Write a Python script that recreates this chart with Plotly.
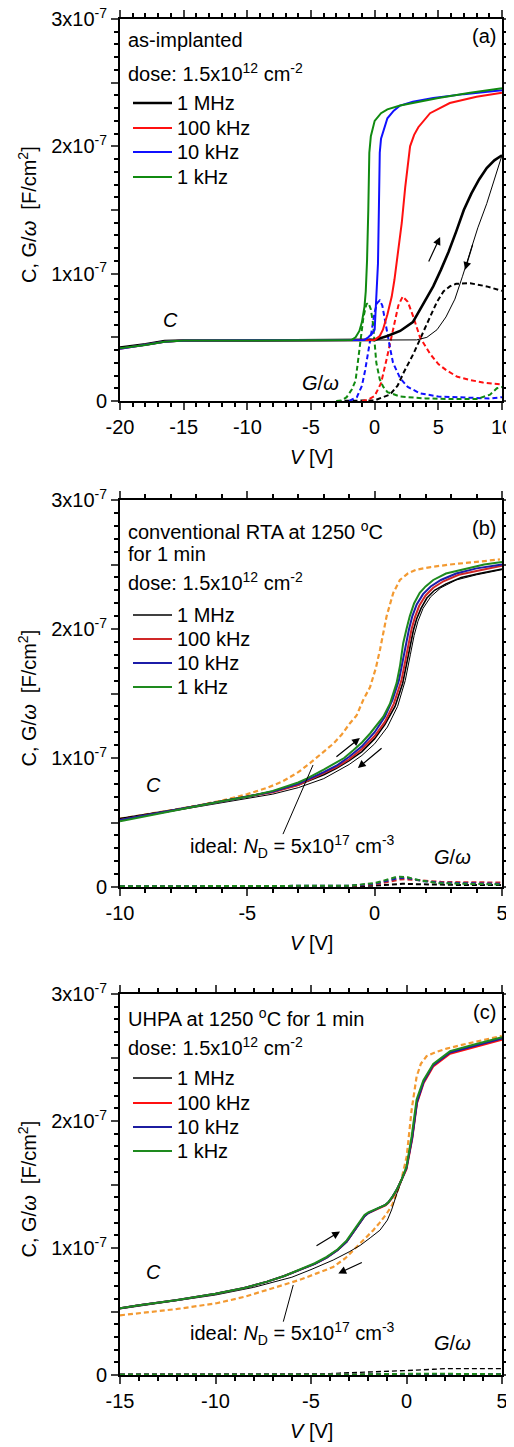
import numpy as np
import plotly.graph_objects as go

E = 1e-7  # values below are given in units of 1e-7 F/cm^2

# ---------------- Panel (a): as-implanted, V from -20 to 10 ----------------
A_V_1k = [-20, -18, -16.5, -15, -10, -5, -2.2, -1.8, -1.5, -1.2, -1.0, -0.8, -0.7, -0.6, -0.5, -0.42, -0.3, -0.15, 0, 0.5, 1, 2, 3.5, 5, 7.5, 10]
A_C_1k = [0.415, 0.44, 0.465, 0.475, 0.475, 0.475, 0.475, 0.48, 0.50, 0.55, 0.62, 0.74, 0.86, 1.10, 1.50, 1.95, 2.08, 2.15, 2.20, 2.26, 2.29, 2.32, 2.35, 2.38, 2.42, 2.456]
A_V_10k = [-20, -18, -16.5, -15, -10, -5, -1.5, -0.8, -0.5, -0.2, 0, 0.13, 0.26, 0.33, 0.4, 0.5, 0.7, 1.0, 1.5, 2.0, 3, 4.6, 7, 10]
A_C_10k = [0.41, 0.44, 0.465, 0.475, 0.475, 0.475, 0.475, 0.48, 0.50, 0.53, 0.56, 0.82, 1.08, 1.5, 1.95, 2.06, 2.13, 2.22, 2.28, 2.32, 2.35, 2.38, 2.41, 2.44]
A_V_100k = [-20, -18, -16.5, -15, -10, -5, -0.5, 0, 0.4, 0.65, 1.0, 1.34, 1.55, 1.73, 1.9, 2.13, 2.4, 2.78, 3.1, 3.43, 4.35, 5.9, 8, 10]
A_C_100k = [0.41, 0.44, 0.465, 0.475, 0.475, 0.475, 0.475, 0.48, 0.51, 0.56, 0.68, 0.82, 0.95, 1.08, 1.22, 1.40, 1.68, 2.0, 2.09, 2.15, 2.26, 2.34, 2.39, 2.42]
A_V_1M_up = [-20, -18, -16.5, -15, -10, -5, -1, 0, 1, 2, 3, 3.8, 4.6, 5.2, 5.8, 6.4, 7.0, 7.6, 8.2, 8.8, 9.4, 10]
A_C_1M_up = [0.42, 0.445, 0.47, 0.475, 0.475, 0.475, 0.475, 0.48, 0.51, 0.55, 0.62, 0.76, 0.9, 1.03, 1.17, 1.33, 1.5, 1.63, 1.74, 1.83, 1.89, 1.93]
A_V_1M_dn = [-20, -18, -16.5, -15, -10, -5, 0, 2, 3.3, 4.1, 4.9, 5.6, 6.3, 6.9, 7.5, 8.1, 8.8, 9.4, 10]
A_C_1M_dn = [0.42, 0.445, 0.47, 0.475, 0.475, 0.475, 0.475, 0.476, 0.48, 0.5, 0.56, 0.66, 0.8, 0.98, 1.17, 1.36, 1.55, 1.74, 1.93]

A_GV_1k = [-3, -2.6, -2.2, -1.8, -1.5, -1.15, -0.88, -0.65, -0.5, -0.3, -0.13, 0.13, 0.4, 0.68, 1, 2, 4, 6, 8, 9.06, 9.6, 10]
A_G_1k = [0, 0.005, 0.03, 0.09, 0.16, 0.43, 0.66, 0.76, 0.77, 0.72, 0.61, 0.30, 0.17, 0.11, 0.07, 0.035, 0.02, 0.015, 0.015, 0.05, 0.1, 0.11]
A_GV_10k = [-2, -1.4, -1.0, -0.75, -0.35, 0, 0.2, 0.4, 0.6, 0.92, 1.2, 1.44, 2, 2.6, 3.57, 5, 7, 9, 10]
A_G_10k = [0, 0.03, 0.12, 0.24, 0.48, 0.70, 0.77, 0.79, 0.75, 0.56, 0.42, 0.30, 0.18, 0.11, 0.06, 0.035, 0.025, 0.02, 0.03]
A_GV_100k = [-1, -0.5, 0, 0.5, 0.92, 1.2, 1.44, 1.86, 2.2, 2.6, 3.04, 3.56, 4.35, 5.0, 5.65, 6.5, 7.5, 8.5, 10]
A_G_100k = [0, 0.01, 0.04, 0.14, 0.32, 0.45, 0.56, 0.75, 0.82, 0.78, 0.66, 0.50, 0.37, 0.29, 0.24, 0.19, 0.165, 0.145, 0.13]
A_GV_1M = [-3, 0, 0.65, 1.2, 1.8, 2.26, 3.04, 3.6, 4.35, 4.9, 5.4, 5.9, 6.4, 7.5, 8.8, 10]
A_G_1M = [0, 0.005, 0.03, 0.05, 0.12, 0.22, 0.37, 0.5, 0.66, 0.78, 0.86, 0.9, 0.92, 0.925, 0.9, 0.865]

# ---------------- Panel (b): conventional RTA, V from -10 to 5 ----------------
B_V_1k = [-10, -9, -8, -7, -6, -5, -4, -3, -2.67, -2, -1.63, -1.2, -0.84, -0.5, -0.18, 0.1, 0.34, 0.6, 0.86, 1.0, 1.12, 1.25, 1.38, 1.55, 1.77, 2.0, 2.3, 2.8, 3.6, 4.3, 5]
B_C_1k = [0.51, 0.55, 0.59, 0.63, 0.665, 0.70, 0.745, 0.81, 0.84, 0.91, 0.95, 1.0, 1.06, 1.12, 1.19, 1.26, 1.32, 1.42, 1.58, 1.72, 1.89, 2.0, 2.10, 2.2, 2.28, 2.33, 2.38, 2.43, 2.47, 2.50, 2.52]
B_V_10k = [-10, -9, -8, -7, -6, -5, -4, -3, -2, -1.5, -1, -0.5, 0, 0.4, 0.7, 0.95, 1.1, 1.22, 1.35, 1.48, 1.65, 1.9, 2.2, 2.6, 3.2, 4, 5]
B_C_10k = [0.52, 0.555, 0.59, 0.63, 0.665, 0.70, 0.74, 0.80, 0.89, 0.94, 1.01, 1.09, 1.20, 1.32, 1.45, 1.60, 1.75, 1.88, 2.0, 2.1, 2.19, 2.27, 2.33, 2.38, 2.43, 2.47, 2.50]
B_V_100k = [-10, -9, -8, -7, -6, -5, -4, -3, -2, -1.5, -1, -0.5, 0, 0.4, 0.75, 1.05, 1.2, 1.32, 1.45, 1.58, 1.75, 2.0, 2.3, 2.7, 3.3, 4, 5]
B_C_100k = [0.52, 0.555, 0.59, 0.625, 0.66, 0.695, 0.735, 0.79, 0.88, 0.93, 0.99, 1.07, 1.17, 1.28, 1.42, 1.60, 1.75, 1.88, 2.0, 2.09, 2.18, 2.26, 2.32, 2.37, 2.42, 2.45, 2.49]
B_V_1M_up = [-10, -9, -8, -7, -6, -5, -4, -3, -2, -1.5, -1, -0.5, 0, 0.4, 0.8, 1.1, 1.28, 1.4, 1.52, 1.65, 1.82, 2.05, 2.35, 2.8, 3.4, 4.1, 5]
B_C_1M_up = [0.53, 0.56, 0.595, 0.63, 0.665, 0.70, 0.74, 0.79, 0.87, 0.92, 0.98, 1.05, 1.15, 1.26, 1.40, 1.58, 1.75, 1.88, 1.99, 2.08, 2.16, 2.24, 2.30, 2.35, 2.40, 2.43, 2.465]
B_V_1M_dn = [-10, -8, -6, -4, -3, -2, -1, -0.5, 0, 0.5, 0.9, 1.2, 1.4, 1.55, 1.7, 1.9, 2.2, 2.6, 3.2, 4, 5]
B_C_1M_dn = [0.52, 0.585, 0.65, 0.72, 0.77, 0.84, 0.95, 1.02, 1.11, 1.24, 1.40, 1.60, 1.80, 1.95, 2.06, 2.16, 2.25, 2.32, 2.38, 2.42, 2.46]
B_V_ideal = [-10, -9, -8, -7, -6, -5, -4.2, -3.6, -3, -2.54, -2, -1.63, -1.3, -0.97, -0.71, -0.45, -0.18, 0.05, 0.21, 0.47, 0.73, 0.99, 1.3, 1.64, 2.2, 2.95, 4, 4.92]
B_C_ideal = [0.53, 0.56, 0.595, 0.63, 0.67, 0.72, 0.77, 0.82, 0.89, 0.96, 1.05, 1.11, 1.18, 1.27, 1.33, 1.45, 1.55, 1.70, 1.84, 2.10, 2.28, 2.38, 2.43, 2.46, 2.48, 2.50, 2.52, 2.54]

B_GV_1k = [-10, -7, -3, -1, 0, 0.5, 0.8, 1.0, 1.3, 1.8, 2.5, 3.5, 5]
B_G_1k = [0.005, 0.005, 0.008, 0.01, 0.03, 0.06, 0.075, 0.08, 0.075, 0.05, 0.03, 0.025, 0.02]
B_GV_10k = [-10, -7, -3, -1, 0, 0.5, 0.9, 1.1, 1.4, 1.9, 2.5, 3.5, 5]
B_G_10k = [0.005, 0.005, 0.008, 0.01, 0.025, 0.05, 0.068, 0.07, 0.065, 0.045, 0.035, 0.03, 0.025]
B_GV_100k = [-10, -7, -3, -1, 0, 0.5, 1.0, 1.2, 1.5, 2.0, 2.6, 3.5, 5]
B_G_100k = [0.005, 0.005, 0.006, 0.008, 0.02, 0.04, 0.058, 0.06, 0.056, 0.045, 0.04, 0.037, 0.035]
B_GV_1M = [-10, -7, -3, -1, 0, 0.6, 1.1, 1.6, 2.2, 3.5, 5]
B_G_1M = [0.004, 0.004, 0.005, 0.006, 0.01, 0.02, 0.025, 0.022, 0.018, 0.015, 0.015]

# ---------------- Panel (c): UHPA, V from -15 to 5 ----------------
C_V_1k = [-15, -14, -12, -10, -8.5, -7.3, -6.4, -5.58, -4.8, -4.18, -3.6, -3.13, -2.75, -2.43, -2.2, -2.0, -1.7, -1.39, -1.1, -0.95, -0.75, -0.51, -0.25, 0, 0.27, 0.53, 0.88, 1.4, 2.28, 3.5, 5]
C_C_1k = [0.525, 0.55, 0.59, 0.64, 0.685, 0.735, 0.78, 0.83, 0.88, 0.93, 0.99, 1.06, 1.14, 1.21, 1.26, 1.28, 1.30, 1.32, 1.34, 1.36, 1.40, 1.46, 1.54, 1.64, 1.88, 2.17, 2.32, 2.45, 2.55, 2.60, 2.66]
C_V_10k = [-15, -14, -12, -10, -8.5, -7.3, -6.4, -5.58, -4.8, -4.18, -3.6, -3.13, -2.75, -2.43, -2.2, -2.0, -1.7, -1.39, -1.1, -0.95, -0.75, -0.51, -0.25, 0, 0.3, 0.55, 0.9, 1.4, 2.28, 3.5, 5]
C_C_10k = [0.525, 0.55, 0.59, 0.64, 0.685, 0.735, 0.78, 0.83, 0.875, 0.925, 0.985, 1.05, 1.13, 1.20, 1.25, 1.275, 1.30, 1.32, 1.34, 1.36, 1.40, 1.46, 1.54, 1.63, 1.87, 2.15, 2.31, 2.44, 2.54, 2.59, 2.65]
C_V_100k = [-15, -14, -12, -10, -8.5, -7.3, -6.4, -5.58, -4.8, -4.18, -3.6, -3.13, -2.75, -2.43, -2.2, -2.0, -1.7, -1.39, -1.1, -0.95, -0.75, -0.51, -0.25, 0, 0.3, 0.55, 0.9, 1.4, 2.28, 3.5, 5]
C_C_100k = [0.525, 0.55, 0.59, 0.64, 0.685, 0.735, 0.78, 0.83, 0.875, 0.925, 0.985, 1.05, 1.13, 1.20, 1.25, 1.275, 1.295, 1.315, 1.335, 1.355, 1.395, 1.455, 1.535, 1.62, 1.86, 2.14, 2.30, 2.43, 2.53, 2.58, 2.64]
C_V_1M_up = [-15, -14, -12, -10, -8.5, -7.3, -6.4, -5.58, -4.8, -4.18, -3.6, -3.13, -2.75, -2.43, -2.2, -2.0, -1.7, -1.39, -1.1, -0.95, -0.75, -0.51, -0.25, 0, 0.3, 0.55, 0.9, 1.4, 2.28, 3.5, 5]
C_C_1M_up = [0.525, 0.55, 0.59, 0.64, 0.685, 0.735, 0.78, 0.83, 0.875, 0.925, 0.985, 1.05, 1.13, 1.20, 1.25, 1.275, 1.30, 1.32, 1.34, 1.36, 1.40, 1.46, 1.54, 1.63, 1.87, 2.15, 2.31, 2.44, 2.54, 2.59, 2.65]
C_V_1M_dn = [-15, -12, -10, -8, -6, -5, -3.84, -3, -2.43, -1.9, -1.39, -1.0, -0.78, -0.5, -0.25, 0, 0.3, 0.55, 0.9, 1.4, 2.3, 3.5, 5]
C_C_1M_dn = [0.52, 0.585, 0.63, 0.69, 0.77, 0.83, 0.905, 0.97, 1.02, 1.08, 1.14, 1.22, 1.30, 1.43, 1.53, 1.63, 1.87, 2.15, 2.31, 2.44, 2.54, 2.59, 2.65]
C_V_ideal = [-15, -12, -9.94, -8.5, -7.3, -6.4, -5.58, -4.7, -3.84, -3.2, -2.6, -2.1, -1.74, -1.4, -1.04, -0.75, -0.51, -0.25, 0.01, 0.27, 0.53, 0.75, 1.05, 1.5, 2.1, 3.2, 4.99]
C_C_ideal = [0.47, 0.52, 0.565, 0.615, 0.67, 0.71, 0.75, 0.80, 0.85, 0.92, 1.01, 1.08, 1.14, 1.20, 1.27, 1.34, 1.43, 1.55, 1.72, 2.09, 2.35, 2.45, 2.51, 2.54, 2.57, 2.61, 2.67]

C_GV_1M = [-15, -5, -4, -3.5, -2.4, -1, 0, 1.4, 2, 5]
C_G_1M = [0.005, 0.005, 0.01, 0.015, 0.02, 0.03, 0.035, 0.045, 0.05, 0.05]
C_GV_1k = [-15, -4, -2, 0, 1, 2, 3, 5]
C_G_1k = [0.003, 0.003, 0.005, 0.01, 0.012, 0.01, 0.008, 0.006]
C_GV_10k = [-15, -4, 0, 1, 2, 5]
C_G_10k = [0.003, 0.003, 0.006, 0.008, 0.008, 0.006]
C_GV_100k = [-15, -4, 0, 1, 2, 5]
C_G_100k = [0.003, 0.003, 0.005, 0.007, 0.007, 0.006]

FREQS = ["1 MHz", "100 kHz", "10 kHz", "1 kHz"]
X_RANGES = [[-20, 10], [-10, 5], [-15, 5]]
X_TICKS = [[-20, -15, -10, -5, 0, 5, 10], [-10, -5, 0, 5], [-15, -10, -5, 0, 5]]
X_TICKTEXT = [["-20", "-15", "-10", "-5", "0", "5", "10"], ["-10", "-5", "0", "5"], ["-15", "-10", "-5", "0", "5"]]
Y_TICKS = [0, 0.5, 1, 1.5, 2, 2.5, 3]
Y_TICKTEXT = ["0", "", "1x10<sup>-7</sup>", "", "2x10<sup>-7</sup>", "", "3x10<sup>-7</sup>"]

COL_A = {"1 MHz": "#000000", "100 kHz": "#ff1010", "10 kHz": "#1010ff", "1 kHz": "#108a10"}
COL_B = {"1 MHz": "#000000", "100 kHz": "#d02828", "10 kHz": "#1c1ca8", "1 kHz": "#1e8a1e"}
COL_C = {"1 MHz": "#000000", "100 kHz": "#ff1010", "10 kHz": "#1c1ca0", "1 kHz": "#1e8a1e"}
LEG_W = {1: {"1 MHz": 2.6, "100 kHz": 2, "10 kHz": 2, "1 kHz": 2},
         2: {"1 MHz": 1.5, "100 kHz": 2, "10 kHz": 2, "1 kHz": 2},
         3: {"1 MHz": 1.5, "100 kHz": 2, "10 kHz": 2, "1 kHz": 2}}
ORANGE = "#f39a32"

FONT = "Liberation Sans, Arial, sans-serif"
FS = 20
DASH = "5px,3px"

fig = go.Figure()


def add(xs, ys, color, width, panel, dash=None, name=None):
    xa = "x" if panel == 1 else "x%d" % panel
    ya = "y" if panel == 1 else "y%d" % panel
    fig.add_trace(go.Scatter(
        x=xs, y=np.array(ys) * E, mode="lines", xaxis=xa, yaxis=ya,
        line=dict(color=color, width=width, dash=dash),
        name=name if name else "", showlegend=False, hoverinfo="skip"))


# panel a
add(A_GV_1M, A_G_1M, COL_A["1 MHz"], 2, 1, DASH)
add(A_GV_100k, A_G_100k, COL_A["100 kHz"], 2, 1, DASH)
add(A_GV_10k, A_G_10k, COL_A["10 kHz"], 2, 1, DASH)
add(A_GV_1k, A_G_1k, COL_A["1 kHz"], 2, 1, DASH)
add(A_V_1M_dn, A_C_1M_dn, COL_A["1 MHz"], 1, 1)
add(A_V_1M_up, A_C_1M_up, COL_A["1 MHz"], 2.6, 1, name="1 MHz")
add(A_V_100k, A_C_100k, COL_A["100 kHz"], 2, 1, name="100 kHz")
add(A_V_10k, A_C_10k, COL_A["10 kHz"], 2, 1, name="10 kHz")
add(A_V_1k, A_C_1k, COL_A["1 kHz"], 2, 1, name="1 kHz")

# panel b
add(B_GV_1M, B_G_1M, COL_B["1 MHz"], 2, 2, DASH)
add(B_GV_100k, B_G_100k, COL_B["100 kHz"], 2, 2, DASH)
add(B_GV_10k, B_G_10k, COL_B["10 kHz"], 2, 2, DASH)
add(B_GV_1k, B_G_1k, COL_B["1 kHz"], 2, 2, DASH)
add(B_V_ideal, B_C_ideal, ORANGE, 2.2, 2, DASH)
add(B_V_1M_dn, B_C_1M_dn, COL_B["1 MHz"], 1, 2)
add(B_V_1M_up, B_C_1M_up, COL_B["1 MHz"], 1.6, 2, name="1 MHz")
add(B_V_100k, B_C_100k, COL_B["100 kHz"], 2, 2, name="100 kHz")
add(B_V_10k, B_C_10k, COL_B["10 kHz"], 2, 2, name="10 kHz")
add(B_V_1k, B_C_1k, COL_B["1 kHz"], 2, 2, name="1 kHz")

# panel c
add(C_GV_1M, C_G_1M, COL_C["1 MHz"], 1.4, 3, DASH)
add(C_GV_100k, C_G_100k, COL_C["100 kHz"], 2, 3, DASH)
add(C_GV_10k, C_G_10k, COL_C["10 kHz"], 2, 3, DASH)
add(C_GV_1k, C_G_1k, COL_C["1 kHz"], 2, 3, DASH)
add(C_V_ideal, C_C_ideal, ORANGE, 2.2, 3, DASH)
add(C_V_1M_dn, C_C_1M_dn, COL_C["1 MHz"], 1, 3)
add(C_V_1M_up, C_C_1M_up, COL_C["1 MHz"], 1.6, 3, name="1 MHz")
add(C_V_100k, C_C_100k, COL_C["100 kHz"], 2, 3, name="100 kHz")
add(C_V_10k, C_C_10k, COL_C["10 kHz"], 2, 3, name="10 kHz")
add(C_V_1k, C_C_1k, COL_C["1 kHz"], 2, 3, name="1 kHz")

# layout geometry, in window pixels; the page body has an 8 px margin
OFF = 8
WIN_W, WIN_H = 514, 1447
W, H = WIN_W - OFF, WIN_H - OFF
PLOT_L, PLOT_R, PLOT_T, PLOT_B = 120, 502, 19, 1375   # plot region in window pixels
ML, MT = PLOT_L - OFF, PLOT_T - OFF
MR = WIN_W - PLOT_R
MB = WIN_H - PLOT_B
PH = PLOT_B - PLOT_T
PW = PLOT_R - PLOT_L
panels_px = [(19, 401), (500, 887), (994, 1375)]


def dom(top, bot):
    return [1 - (bot - PLOT_T) / PH, 1 - (top - PLOT_T) / PH]


def xaxis(i, anchor):
    return dict(range=X_RANGES[i], tickmode="array", tickvals=X_TICKS[i], ticktext=X_TICKTEXT[i],
                ticks="outside", ticklen=7, tickwidth=2, automargin=False, ticklabeloverflow="allow",
                showline=True, linewidth=2, linecolor="black", mirror="ticks",
                showgrid=False, zeroline=False, anchor=anchor,
                tickfont=dict(family=FONT, size=FS, color="black"),
                minor=dict(tickmode="linear", dtick=1, tick0=0, ticks="outside", ticklen=4, tickwidth=2,
                           tickcolor="black"))


def yaxis(d, anchor):
    return dict(domain=d, range=[0, 3e-7], tickmode="array", tickvals=[v * E for v in Y_TICKS],
                ticktext=Y_TICKTEXT, ticks="outside", ticklen=7, tickwidth=2, automargin=False,
                ticklabeloverflow="allow",
                showline=True, linewidth=2, linecolor="black", mirror="ticks",
                showgrid=False, zeroline=False, anchor=anchor,
                tickfont=dict(family=FONT, size=FS, color="black"),
                minor=dict(tickmode="linear", dtick=1e-8, tick0=0, ticks="outside", ticklen=4, tickwidth=2,
                           tickcolor="black"))


fig.update_layout(
    template="none",
    width=W, height=H, margin=dict(l=ML, r=MR, t=MT, b=MB, autoexpand=False),
    paper_bgcolor="white", plot_bgcolor="white", showlegend=False,
    font=dict(family=FONT, size=FS, color="black"),
    xaxis=xaxis(0, "y"), yaxis=yaxis(dom(*panels_px[0]), "x"),
    xaxis2=xaxis(1, "y2"), yaxis2=yaxis(dom(*panels_px[1]), "x2"),
    xaxis3=xaxis(2, "y3"), yaxis3=yaxis(dom(*panels_px[2]), "x3"),
)

ann = []
shapes = []


def px_x(px):
    return (px - PLOT_L) / PW


def px_y(px, panel):
    top, bot = panels_px[panel - 1]
    return (bot - px) / (bot - top)


def sfx(panel):
    return "" if panel == 1 else str(panel)


def txt(text, xpx, ypx, panel, xanchor="left", size=FS):
    s = sfx(panel)
    ann.append(dict(text=text, x=px_x(xpx), y=px_y(ypx, panel), xref="x%s domain" % s, yref="y%s domain" % s,
                    xanchor=xanchor, yanchor="middle", showarrow=False,
                    font=dict(family=FONT, size=size, color="black")))


def arrow(x0, y0, x1, y1, panel):
    s = sfx(panel)
    ann.append(dict(text="", x=x1, y=y1 * E, ax=x0, ay=y0 * E, xref="x" + s, yref="y" + s,
                    axref="x" + s, ayref="y" + s, showarrow=True, arrowhead=2, arrowsize=1.3,
                    arrowwidth=1.2, arrowcolor="black"))


def legend_block(panel, rows_px, colors):
    s = sfx(panel)
    for name, ypx in zip(FREQS, rows_px):
        yy = px_y(ypx, panel)
        shapes.append(dict(type="line", xref="x%s domain" % s, yref="y%s domain" % s,
                           x0=px_x(133), x1=px_x(172), y0=yy, y1=yy,
                           line=dict(color=colors[name], width=LEG_W[panel][name])))
        txt(name, 175, ypx, panel)


# panel a texts
txt("as-implanted", 126, 40, 1)
txt("dose: 1.5x10<sup>12</sup> cm<sup>-2</sup>", 126, 72, 1)
txt("(a)", 498, 36, 1, "right")
txt("<i>C</i>", 170, 320, 1, "center")
txt("<i>G</i>/<i>ω</i>", 320, 383, 1, "center")
legend_block(1, [103, 128, 152, 177], COL_A)
arrow(4.19, 1.084, 5.14, 1.288, 1)
arrow(7.73, 1.24, 7.1, 1.03, 1)

# panel b texts
txt("conventional RTA at 1250 <sup>o</sup>C", 126, 530, 2)
txt("for 1 min", 126, 554, 2)
txt("dose: 1.5x10<sup>12</sup> cm<sup>-2</sup>", 126, 581, 2)
txt("(b)", 498, 528, 2, "right")
txt("<i>C</i>", 153, 785, 2, "center")
txt("ideal: <i>N</i><sub>D</sub> = 5x10<sup>17</sup> cm<sup>-3</sup>", 188, 846, 2)
txt("<i>G</i>/<i>ω</i>", 452, 857, 2, "center")
legend_block(2, [615, 639, 663, 687], COL_B)
arrow(-1.56, 1.0, -0.58, 1.155, 2)
arrow(0.33, 1.085, -0.66, 0.922, 2)

# panel c texts
txt("UHPA at 1250 <sup>o</sup>C for 1 min", 126, 1018, 3)
txt("dose: 1.5x10<sup>12</sup> cm<sup>-2</sup>", 126, 1046, 3)
txt("(c)", 498, 1012, 3, "right")
txt("<i>C</i>", 153, 1272, 3, "center")
txt("ideal: <i>N</i><sub>D</sub> = 5x10<sup>17</sup> cm<sup>-3</sup>", 188, 1333, 3)
txt("<i>G</i>/<i>ω</i>", 452, 1343, 3, "center")
legend_block(3, [1078, 1103, 1127, 1151], COL_C)
arrow(-4.79, 1.01, -3.48, 1.13, 3)
arrow(-2.26, 0.892, -3.57, 0.80, 3)

# axis titles (window pixel positions -> paper coords)
for top, bot in panels_px:
    ann.append(dict(text="<i>V</i> [V]", x=px_x(311), y=1 - (bot + 56 - PLOT_T) / PH,
                    xref="paper", yref="paper", xanchor="center", yanchor="middle", showarrow=False,
                    font=dict(family=FONT, size=FS, color="black")))
    ann.append(dict(text="C, G/<i>ω</i>  [F/cm<sup>2</sup>]", x=px_x(27), y=1 - ((top + bot) / 2 + 5 - PLOT_T) / PH,
                    xref="paper", yref="paper", xanchor="center", yanchor="middle", textangle=-90,
                    showarrow=False, font=dict(family=FONT, size=FS, color="black")))

# pointer lines for "ideal" labels
shapes.append(dict(type="line", x0=-3.6, y0=0.41 * E, x1=-2.42, y1=0.946 * E, xref="x2", yref="y2",
                   line=dict(color="black", width=1)))
shapes.append(dict(type="line", x0=-6.45, y0=0.42 * E, x1=-5.93, y1=0.709 * E, xref="x3", yref="y3",
                   line=dict(color="black", width=1)))

fig.update_layout(annotations=ann, shapes=shapes)
fig.write_html("out.html")
